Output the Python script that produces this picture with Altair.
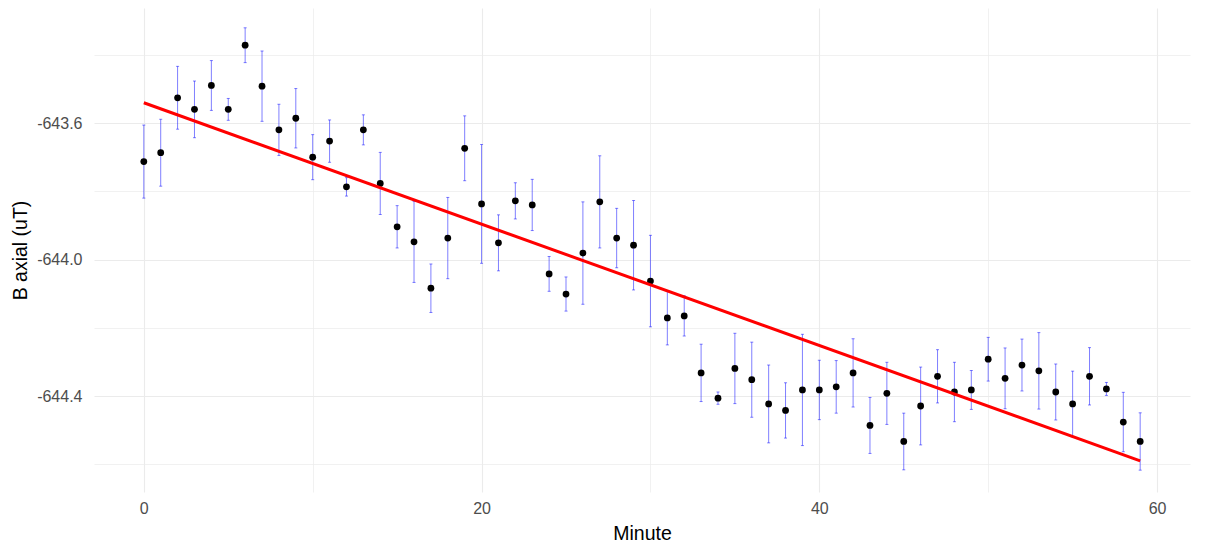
import altair as alt
import pandas as pd

minute = list(range(60))
b_axial = [
    -643.713, -643.687, -643.526, -643.560, -643.490, -643.560, -643.372, -643.492, -643.620, -643.586,
    -643.700, -643.653, -643.787, -643.620, -643.777, -643.904, -643.948, -644.084, -643.937, -643.674,
    -643.837, -643.951, -643.828, -643.840, -644.042, -644.101, -643.981, -643.831, -643.937, -643.958,
    -644.063, -644.171, -644.165, -644.332, -644.406, -644.319, -644.352, -644.423, -644.442, -644.382,
    -644.382, -644.373, -644.332, -644.486, -644.392, -644.533, -644.429, -644.342, -644.388, -644.382,
    -644.292, -644.348, -644.309, -644.326, -644.388, -644.423, -644.342, -644.379, -644.476, -644.533,
]
b_err = [
    0.107, 0.098, 0.092, 0.083, 0.073, 0.032, 0.051, 0.103, 0.075, 0.087,
    0.066, 0.062, 0.027, 0.044, 0.091, 0.062, 0.119, 0.071, 0.119, 0.095,
    0.174, 0.082, 0.053, 0.075, 0.051, 0.050, 0.150, 0.135, 0.087, 0.131,
    0.134, 0.079, 0.059, 0.084, 0.018, 0.103, 0.110, 0.114, 0.081, 0.163,
    0.087, 0.077, 0.100, 0.082, 0.091, 0.083, 0.114, 0.078, 0.087, 0.057,
    0.064, 0.089, 0.076, 0.112, 0.082, 0.096, 0.084, 0.019, 0.087, 0.084,
]
x_grid = [0, 10, 20, 30, 40, 50, 60]
y_grid = [-644.6, -644.4, -644.2, -644.0, -643.8, -643.6, -643.4]

df = pd.DataFrame({"minute": minute, "b": b_axial, "err": b_err})

FONT = "Liberation Sans"
x_scale = alt.Scale(domain=[-2.95, 61.95], nice=False, zero=False)
y_scale = alt.Scale(domain=[-644.681, -643.263], nice=False, zero=False)

x_axis = alt.Axis(
    title="Minute", values=x_grid,
    labelExpr="datum.value % 20 == 0 ? datum.label : ''",
    grid=True, gridColor="#ebebeb",
    gridWidth={"condition": {"test": "datum.value % 20 == 0", "value": 1.1}, "value": 0.7},
    domain=False, ticks=False, labelPadding=8, titlePadding=8,
)
y_axis = alt.Axis(
    title="B axial (uT)", values=y_grid,
    labelExpr="abs(round(datum.value * 10)) % 4 == 0 ? '-' + format(abs(datum.value), '.1f') : ''",
    grid=True, gridColor="#ebebeb",
    gridWidth={"condition": {"test": "abs(round(datum.value * 10)) % 4 == 0", "value": 1.1}, "value": 0.7},
    domain=False, ticks=False, labelPadding=12, titlePadding=6,
)

base = alt.Chart(df).transform_calculate(
    lo="datum.b - datum.err", hi="datum.b + datum.err"
)

bars = base.mark_rule(color="blue", opacity=0.5, strokeWidth=1).encode(
    x=alt.X("minute:Q", scale=x_scale, axis=x_axis),
    y=alt.Y("lo:Q", scale=y_scale, axis=y_axis),
    y2="hi:Q",
)
cap_lo = base.mark_tick(color="blue", opacity=0.5, orient="horizontal", size=3, thickness=1).encode(
    x=alt.X("minute:Q", scale=x_scale), y=alt.Y("lo:Q", scale=y_scale)
)
cap_hi = base.mark_tick(color="blue", opacity=0.5, orient="horizontal", size=3, thickness=1).encode(
    x=alt.X("minute:Q", scale=x_scale), y=alt.Y("hi:Q", scale=y_scale)
)
points = alt.Chart(df).mark_circle(color="black", opacity=1, size=46).encode(
    x=alt.X("minute:Q", scale=x_scale), y=alt.Y("b:Q", scale=y_scale)
)
fit = alt.Chart(df).transform_regression(
    "minute", "b", method="linear", extent=[0, 59]
).mark_line(color="red", strokeWidth=3).encode(
    x=alt.X("minute:Q", scale=x_scale), y=alt.Y("b:Q", scale=y_scale)
)

chart = alt.layer(bars, cap_lo, cap_hi, points, fit).properties(
    width=1096, height=484,
    autosize=alt.AutoSizeParams(type="none"),
    padding={"left": 86, "top": 0, "right": 20, "bottom": 50},
).configure_view(stroke=None).configure_axis(
    labelFont=FONT, titleFont=FONT, labelFontSize=16, titleFontSize=19.5,
    labelColor="#4d4d4d", titleColor="#000000", titleFontWeight="normal",
)

chart.save("out.html", embed_options={"renderer": "svg", "actions": False})
